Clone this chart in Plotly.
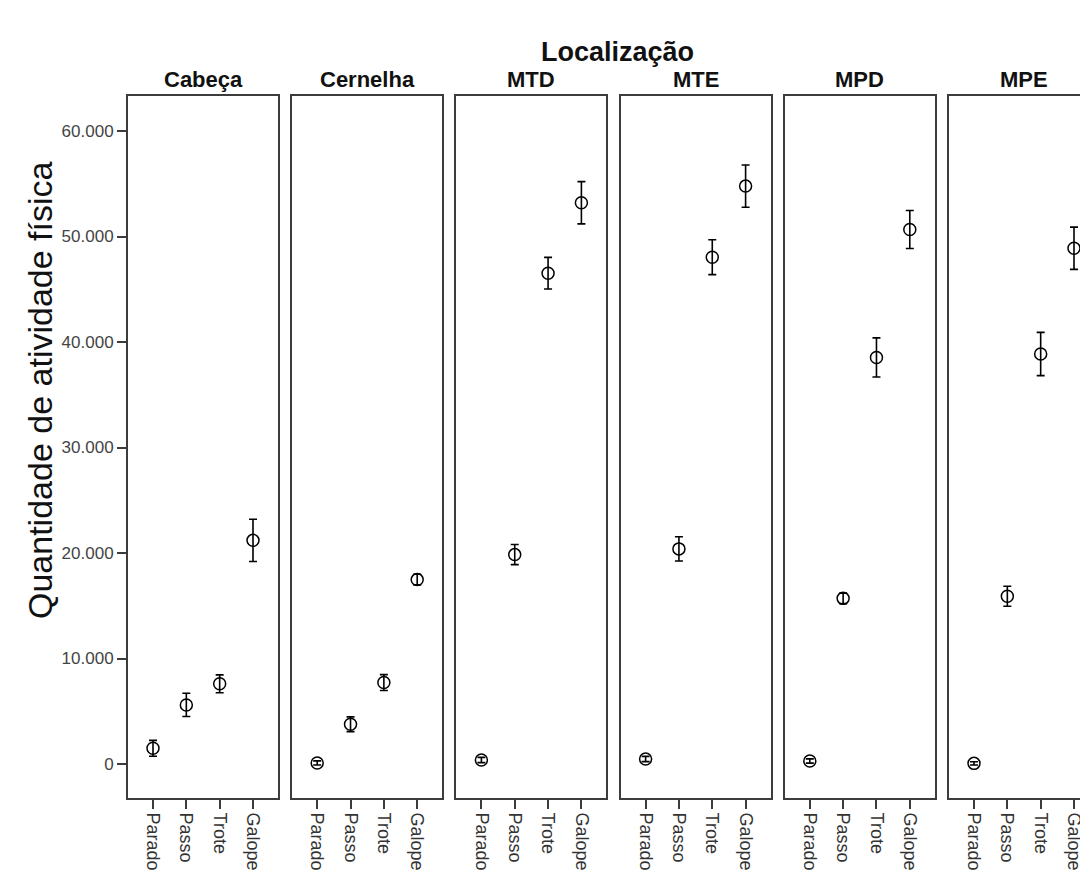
import plotly.graph_objects as go

# ---- data ----
locations = ["Cabeça", "Cernelha", "MTD", "MTE", "MPD", "MPE"]
gaits = ["Parado", "Passo", "Trote", "Galope"]

mean_cabeca = [1490, 5600, 7600, 21200]
err_cabeca = [750, 1100, 850, 2000]
mean_cernelha = [100, 3770, 7720, 17480]
err_cernelha = [200, 700, 750, 500]
mean_mtd = [380, 19850, 46520, 53200]
err_mtd = [250, 950, 1500, 2000]
mean_mte = [475, 20390, 48040, 54780]
err_mte = [250, 1150, 1650, 2000]
mean_mpd = [285, 15700, 38540, 50660]
err_mpd = [200, 500, 1850, 1800]
mean_mpe = [60, 15900, 38860, 48890]
err_mpe = [150, 950, 2050, 2000]

means = [mean_cabeca, mean_cernelha, mean_mtd, mean_mte, mean_mpd, mean_mpe]
errs = [err_cabeca, err_cernelha, err_mtd, err_mte, err_mpd, err_mpe]

y_ticks = [0, 10000, 20000, 30000, 40000, 50000, 60000]
y_ticktext = ["0", "10.000", "20.000", "30.000", "40.000", "50.000", "60.000"]

# ---- layout geometry ----
# the page body adds an 8px offset, so the figure is drawn 8px smaller
OFF = 8
VW, VH = 1088, 874
W, H = VW - OFF, VH - OFF


def px(xr):
    return (xr - OFF) / W


def py(yr):
    return 1 - (yr - OFF) / H


panel_left0 = 128
panel_w = 150
panel_step = 164.2
top_px, bot_px = 96, 798

FONT = "Arial, Liberation Sans, sans-serif"
LINE = "#3c3c3c"

fig = go.Figure()
layout = dict(
    width=W, height=H,
    margin=dict(l=0, r=0, t=0, b=0),
    paper_bgcolor="white", plot_bgcolor="white",
    showlegend=False,
    font=dict(family=FONT, color="#222"),
)
annotations = []

for i, loc in enumerate(locations):
    idx = "" if i == 0 else str(i + 1)
    xa = "x" + idx
    ya = "y" + idx
    left = panel_left0 + i * panel_step
    right = left + panel_w
    x_hi = 3.75
    if right > VW:
        # panel is cut off at the right edge of the picture
        x_hi = 3.75 - (right - VW) / (panel_w / 4.5)
        right = VW
    fig.add_trace(go.Scatter(
        x=gaits, y=means[i], xaxis=xa, yaxis=ya,
        mode="markers",
        marker=dict(symbol="circle-open", size=12, color="black",
                    line=dict(width=1.5, color="black")),
        error_y=dict(type="data", array=errs[i], visible=True,
                     color="black", thickness=1.6, width=4),
        cliponaxis=False,
    ))
    layout["xaxis" + idx] = dict(
        domain=[px(left), px(right)], anchor=ya,
        type="category", categoryorder="array", categoryarray=gaits,
        range=[-0.75, x_hi],
        showline=True, linecolor=LINE, linewidth=2, mirror=True,
        ticks="outside", ticklen=9, tickcolor=LINE, tickwidth=1.8,
        tickangle=90, tickfont=dict(size=18, color="#333", family=FONT),
        showgrid=False, zeroline=False, fixedrange=True,
    )
    layout["yaxis" + idx] = dict(
        domain=[py(bot_px), py(top_px)], anchor=xa,
        range=[-3223, 63320],
        showline=True, linecolor=LINE, linewidth=2,
        mirror=(i < len(locations) - 1),
        showgrid=False, zeroline=False, fixedrange=True,
        tickvals=y_ticks, ticktext=y_ticktext,
        showticklabels=(i == 0),
        ticks="outside" if i == 0 else "",
        ticklen=9, tickcolor=LINE, tickwidth=1.8,
        tickfont=dict(size=17, color="#444", family=FONT),
    )
    annotations.append(dict(
        text="<b>" + loc + "</b>", x=px(panel_left0 + i * panel_step + panel_w / 2),
        y=py(80), xref="paper", yref="paper", showarrow=False,
        xanchor="center", yanchor="middle",
        font=dict(size=22, color="#111", family=FONT),
    ))

annotations.append(dict(
    text="<b>Localização</b>", x=px(617), y=py(52), xref="paper", yref="paper",
    showarrow=False, xanchor="center", yanchor="middle",
    font=dict(size=27, color="#111", family=FONT),
))
annotations.append(dict(
    text="Quantidade de atividade física", x=px(40), y=py(390),
    xref="paper", yref="paper", showarrow=False, textangle=-90,
    xanchor="center", yanchor="middle",
    font=dict(size=34, color="#111", family=FONT),
))
layout["annotations"] = annotations
fig.update_layout(**layout)
fig.write_html("out.html")
